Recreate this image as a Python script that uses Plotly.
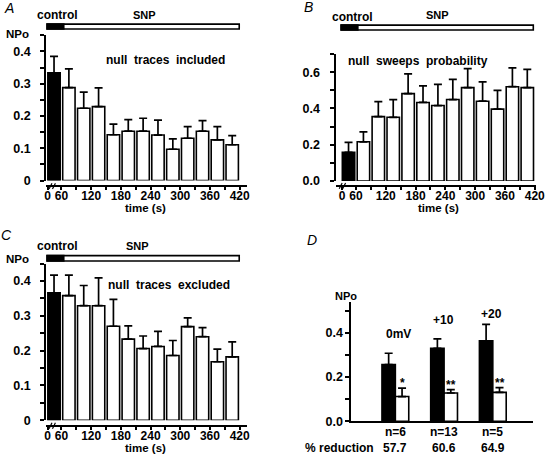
import plotly.graph_objects as go

W, H = 557, 464
def fx(px): return px / W
def fy(py): return 1 - py / H

# ---------------- data ----------------
bin_times = [45, 75, 105, 135, 165, 195, 225, 255, 285, 315, 345, 375, 405]
bar_colors = ["black"] + ["white"] * 12

a_mean = [0.334, 0.288, 0.224, 0.229, 0.142, 0.153, 0.153, 0.141, 0.097, 0.131, 0.153, 0.126, 0.111]
a_sem = [0.051, 0.058, 0.050, 0.058, 0.033, 0.036, 0.040, 0.046, 0.032, 0.036, 0.033, 0.041, 0.028]

b_mean = [0.158, 0.216, 0.355, 0.351, 0.482, 0.433, 0.416, 0.449, 0.515, 0.440, 0.396, 0.520, 0.515]
b_sem = [0.055, 0.055, 0.083, 0.098, 0.109, 0.092, 0.117, 0.111, 0.105, 0.107, 0.104, 0.104, 0.101]

c_mean = [0.366, 0.358, 0.329, 0.329, 0.270, 0.233, 0.206, 0.212, 0.186, 0.269, 0.240, 0.168, 0.182]
c_sem = [0.051, 0.059, 0.058, 0.080, 0.077, 0.038, 0.036, 0.043, 0.043, 0.025, 0.026, 0.036, 0.043]

d_groups = [1, 2, 3]
d_group_labels = ["0mV", "+10", "+20"]
d_n = ["n=6", "n=13", "n=5"]
d_reduction = ["57.7", "60.6", "64.9"]
d_signif = ["*", "**", "**"]
d_ctrl_mean = [0.257, 0.330, 0.364]
d_ctrl_sem = [0.051, 0.043, 0.075]
d_snp_mean = [0.112, 0.128, 0.131]
d_snp_sem = [0.038, 0.015, 0.021]

x_tickvals = [32, 60, 120, 180, 240, 300, 360, 420]
x_ticktext = ["0", "60", "120", "180", "240", "300", "360", "420"]
x_minor = [90, 150, 210, 270, 330, 390]

# ---------------- figure ----------------
FONT = "Liberation Sans, Arial, Helvetica, sans-serif"
fig = go.Figure()

def time_bars(mean, sem, xa, ya):
    fig.add_trace(go.Bar(
        x=bin_times, y=mean, width=25, xaxis=xa, yaxis=ya,
        marker=dict(color=bar_colors, line=dict(color="black", width=1.6)),
        error_y=dict(type="data", array=sem, arrayminus=[0] * len(sem), symmetric=False,
                     color="black", thickness=1.7, width=4),
        showlegend=False, hoverinfo="skip"))

time_bars(a_mean, a_sem, "x", "y")
time_bars(b_mean, b_sem, "x2", "y2")
time_bars(c_mean, c_sem, "x3", "y3")

w = 0.275
fig.add_trace(go.Bar(
    x=d_groups, y=d_ctrl_mean, width=w, offset=-w, xaxis="x4", yaxis="y4",
    marker=dict(color="black", line=dict(color="black", width=1.6)),
    error_y=dict(type="data", array=d_ctrl_sem, arrayminus=[0, 0, 0], symmetric=False,
                 color="black", thickness=1.7, width=4),
    showlegend=False, hoverinfo="skip"))
fig.add_trace(go.Bar(
    x=d_groups, y=d_snp_mean, width=w, offset=0, xaxis="x4", yaxis="y4",
    marker=dict(color="white", line=dict(color="black", width=1.6)),
    error_y=dict(type="data", array=d_snp_sem, arrayminus=[0, 0, 0], symmetric=False,
                 color="black", thickness=1.7, width=4),
    showlegend=False, hoverinfo="skip"))

tickfont = dict(family=FONT, size=12.5, color="black", weight="bold")
xtickfont = dict(family=FONT, size=12, color="black", weight="bold")

def time_xaxis(dom, rng, pos_px):
    return dict(domain=[fx(dom[0]), fx(dom[1])], range=rng, anchor="free", position=fy(pos_px),
                showline=True, linecolor="black", linewidth=1.7, showgrid=False, zeroline=False,
                tickmode="array", tickvals=x_tickvals, ticktext=x_ticktext,
                ticks="outside", ticklen=3, tickwidth=1.5, tickcolor="black",
                minor=dict(tickmode="array", tickvals=x_minor, ticks="outside", ticklen=3,
                           tickwidth=1.5, tickcolor="black"),
                tickfont=xtickfont, ticklabelstandoff=-4, fixedrange=True)

def value_yaxis(anchor, dom_px, rng, tv, tt, minor_dtick, standoff=6):
    return dict(domain=[fy(dom_px[0]), fy(dom_px[1])], range=rng, anchor=anchor,
                showline=True, linecolor="black", linewidth=1.7, showgrid=False, zeroline=False,
                tickmode="array", tickvals=tv, ticktext=tt,
                ticks="outside", ticklen=4, tickwidth=1.5, tickcolor="black",
                minor=dict(tickmode="linear", tick0=0, dtick=minor_dtick, ticks="outside",
                           ticklen=4, tickwidth=1.5, tickcolor="black"),
                tickfont=tickfont, ticklabelstandoff=standoff, fixedrange=True)

fig.update_layout(
    width=W, height=H, margin=dict(l=0, r=0, t=0, b=0),
    paper_bgcolor="white", plot_bgcolor="white", barmode="overlay",
    font=dict(family=FONT, size=12, color="black"),
    xaxis=time_xaxis((45, 250), [29, 435], 189),
    yaxis=value_yaxis("x", (183.3, 35.9), [0, 0.45], [0, 0.1, 0.2, 0.3, 0.4],
                      ["0", "0.1", "0.2", "0.3", "0.4"], 0.05, 7),
    xaxis2=time_xaxis((341, 545), [20.3, 423], 188.7),
    yaxis2=value_yaxis("x2", (183.7, 54.9), [0, 0.7], [0, 0.2, 0.4, 0.6],
                       ["0.0", "0.2", "0.4", "0.6"], 0.1, 8),
    xaxis3=time_xaxis((45, 250), [29, 435], 432.3),
    yaxis3=value_yaxis("x3", (426.7, 267.6), [0, 0.45], [0, 0.1, 0.2, 0.3, 0.4],
                       ["0", "0.1", "0.2", "0.3", "0.4"], 0.05, 7),
    xaxis4=dict(domain=[fx(356.3), fx(541.3)], range=[0.095, 3.817], anchor="y4",
                showline=True, linecolor="black", linewidth=1.7, showgrid=False, zeroline=False,
                showticklabels=False, ticks="", fixedrange=True),
    yaxis4=value_yaxis("x4", (427.7, 306.7), [0, 0.54], [0, 0.2, 0.4],
                       ["0.0", "0.2", "0.4"], 0.1, 0),
)

shapes = []
anns = []

def txt(x, y, s, size=12, bold=True, **kw):
    anns.append(dict(x=fx(x), y=fy(y), xref="paper", yref="paper", text=s, showarrow=False,
                     xanchor=kw.pop("xanchor", "center"), yanchor="middle",
                     font=dict(family=FONT, size=size, color="black",
                               weight="bold" if bold else "normal"), **kw))

def line(x0, y0, x1, y1, wdt=1.5):
    shapes.append(dict(type="line", xref="paper", yref="paper", x0=fx(x0), y0=fy(y0),
                       x1=fx(x1), y1=fy(y1), line=dict(color="black", width=wdt)))

def protocol(x0, x1, xblack, ytop, ybot):
    shapes.append(dict(type="rect", xref="paper", yref="paper", x0=fx(x0), x1=fx(x1),
                       y0=fy(ybot), y1=fy(ytop), fillcolor="white",
                       line=dict(color="black", width=1.6)))
    shapes.append(dict(type="rect", xref="paper", yref="paper", x0=fx(x0), x1=fx(xblack),
                       y0=fy(ybot), y1=fy(ytop), fillcolor="black",
                       line=dict(color="black", width=1.6)))

def axis_break(xb, y):
    line(xb, y + 3, xb + 3, y - 3, 1.2)
    line(xb + 3.5, y + 3, xb + 6.5, y - 3, 1.2)

# Panel A
txt(7, 8, "<i>A</i>", 14, bold=False)
txt(57, 15.5, "control")
txt(145, 15, "SNP", 11)
protocol(46, 242, 63, 24.5, 29.5)
txt(16, 34.5, "NPo", 11.5)
txt(167, 61, "null  traces  included")
txt(146, 211.5, "time (s)", 11.5)
axis_break(48, 189)

# Panel B
txt(313, 7, "<i>B</i>", 14, bold=False)
txt(358, 17, "control")
txt(444, 15, "SNP", 11)
protocol(346, 542, 363, 25.5, 30.5)
txt(424, 61.5, "null  sweeps  probability")
txt(445, 211.5, "time (s)", 11.5)
axis_break(344, 188.7)

# Panel C
txt(5, 239, "<i>C</i>", 14, bold=False)
txt(57, 250, "control")
txt(138, 249.5, "SNP", 11)
protocol(46, 242, 63, 259.5, 265)
txt(16, 263, "NPo", 11.5)
txt(170, 289, "null  traces  excluded")
txt(146, 455, "time (s)", 11.5)
axis_break(48, 432.3)

# Panel D
bfont = dict(family=FONT, size=12, color="black", weight="bold")
txt(316.5, 244, "<i>D</i>", 14, bold=False)
txt(351, 301, "NPo", 11)
for g, lab, ly in zip(d_groups, d_group_labels, [339, 325, 319]):
    anns.append(dict(x=g, xref="x4", y=fy(ly), yref="paper", text=lab, showarrow=False,
                     xanchor="center", yanchor="middle", xshift=-1 if g > 1 else 3, font=bfont))
for g, m, s, sig in zip(d_groups, d_snp_mean, d_snp_sem, d_signif):
    anns.append(dict(x=g + w / 2, xref="x4", y=m + s, yref="y4", text=sig, showarrow=False,
                     xanchor="center", yanchor="bottom", yshift=-4, font=bfont))
for g, n, r in zip(d_groups, d_n, d_reduction):
    anns.append(dict(x=g, xref="x4", y=fy(439), yref="paper", text=n, showarrow=False,
                     xanchor="center", yanchor="middle", font=bfont))
    anns.append(dict(x=g, xref="x4", y=fy(455), yref="paper", text=r, showarrow=False,
                     xanchor="center", yanchor="middle", font=bfont))
txt(344, 455, "% reduction")

fig.update_layout(shapes=shapes, annotations=anns)
fig.write_html("out.html", config={"displayModeBar": False},
               post_script="document.body.style.margin='0';")
